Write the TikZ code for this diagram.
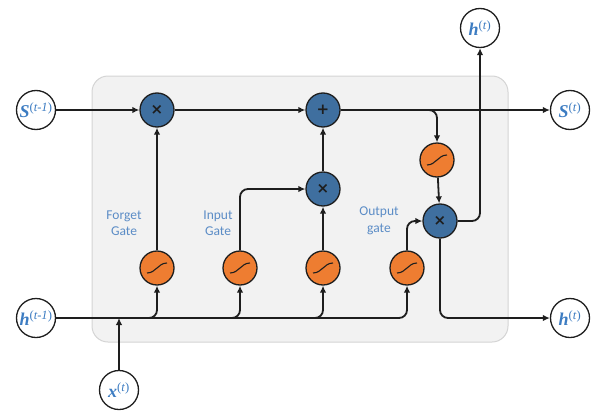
\documentclass[tikz,border=0pt]{standalone}
\usepackage{fontspec}
\setmainfont{Liberation Serif}
\newfontfamily\gatefont{Carlito}
\newfontfamily\symfont{DejaVu Sans}
\usetikzlibrary{arrows.meta}

\definecolor{opblue}{HTML}{3F6F9F}
\definecolor{actorange}{HTML}{EE7D31}
\definecolor{cellgray}{HTML}{F2F2F2}
\definecolor{cellborder}{HTML}{D4D4D4}
\definecolor{varblue}{HTML}{3C7CC2}
\definecolor{gateblue}{HTML}{5B8CC6}
\definecolor{inkdark}{HTML}{1E1E1E}

% state / input / output variable with a time superscript
\newcommand\tvar[2]{\textbf{\textit{#1}}\textsuperscript{(\textit{#2})}}

\begin{document}
\begin{tikzpicture}[x=1pt,y=-1pt,
  opnode/.style={circle, draw=inkdark, line width=1.3pt, fill=opblue,
    minimum size=34pt, inner sep=0pt,
    font=\symfont\bfseries\fontsize{15}{15}\selectfont, text=inkdark},
  actnode/.style={circle, draw=inkdark, line width=1.3pt, fill=actorange,
    minimum size=34pt, inner sep=0pt,
    path picture={\draw[inkdark, line width=1.1pt]
      ([shift={(-10,5)}]path picture bounding box.center)
      .. controls ([shift={(-1,5)}]path picture bounding box.center)
      and ([shift={(1,-5)}]path picture bounding box.center)
      .. ([shift={(10,-5)}]path picture bounding box.center);}},
  ionode/.style={circle, draw=inkdark, line width=1.3pt, fill=white,
    minimum size=39pt, inner sep=0pt, text=varblue,
    font=\fontsize{18}{18}\selectfont},
  flow/.style={draw=inkdark, line width=1.8pt, rounded corners=8pt,
    -{Latex[length=7pt,width=6.5pt]}},
  gatelabel/.style={font=\gatefont\fontsize{13.5}{16.5}\selectfont,
    text=gateblue, align=center}]

\useasboundingbox (0,0) rectangle (596,412);

% LSTM cell body
\node[draw=cellborder, fill=cellgray, line width=1pt, rounded corners=16pt,
  minimum width=416pt, minimum height=266pt] (cell) at (300,209) {};

% inputs and outputs
\node[ionode] (sprev) at (36,110) {\tvar{S}{t-1}};
\node[ionode] (snext) at (570,110) {\tvar{S}{t}};
\node[ionode] (hprev) at (36,318) {\tvar{h}{t-1}};
\node[ionode] (hout)  at (570,318) {\tvar{h}{t}};
\node[ionode] (hup)   at (480,28)  {\tvar{h}{t}};
\node[ionode] (xin)   at (119,390) {\tvar{x}{t}};

% pointwise operations
\node[opnode] (fmul) at (157,110) {×};
\node[opnode] (add)  at (323,110) {+};
\node[opnode] (imul) at (323,189) {×};
\node[opnode] (omul) at (440,221) {×};

% activation layers
\node[actnode] (fsig) at (157,268) {};
\node[actnode] (isig) at (240,268) {};
\node[actnode] (gsig) at (323,268) {};
\node[actnode] (osig) at (407,268) {};
\node[actnode] (ctanh) at (437,160) {};

% gate labels
\node[gatelabel] (flabel) at (124,223) {Forget\\Gate};
\node[gatelabel] (ilabel) at (218,223) {Input\\Gate};
\node[gatelabel] (olabel) at (379,221) {Output\\gate};

% cell state path
\draw[flow] (sprev) -- (fmul);
\draw[flow] (fmul) -- (add);
\draw[flow] (add) -- (snext);
\draw[flow] (add.east) -| (ctanh.north);
\draw[flow] (ctanh) -- (omul);

% hidden state input and gate branches
\coordinate (xjoin) at (xin |- hprev);
\draw[flow] (hprev.east) -| (fsig.south);
\draw[flow] (hprev.east) -| (isig.south);
\draw[flow] (hprev.east) -| (gsig.south);
\draw[flow] (hprev.east) -| (osig.south);
\draw[flow] (xin) -- (xjoin);

% gates into the pointwise operations
\draw[flow] (fsig) -- (fmul);
\draw[flow] (isig.north) |- (imul.west);
\draw[flow] (gsig) -- (imul);
\draw[flow] (imul) -- (add);
\draw[flow] (osig.north) |- (omul.west);

% hidden state output
\draw[flow] (omul.east) -| (hup.south);
\draw[flow] (omul.south) |- (hout.west);
\end{tikzpicture}
\end{document}
